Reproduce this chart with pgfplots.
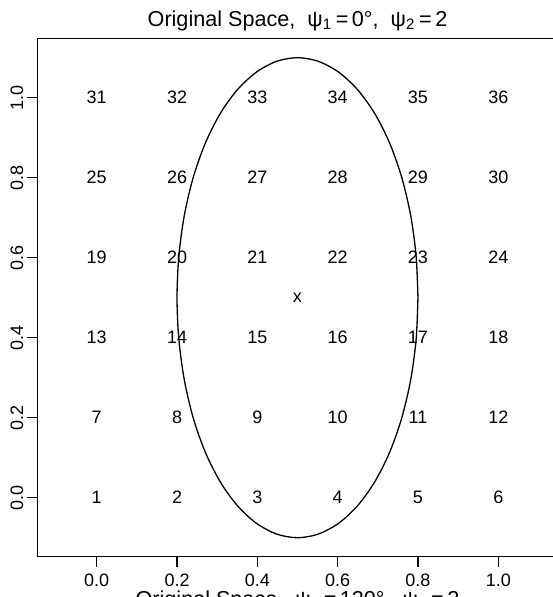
\documentclass[border=0pt]{standalone}
\usepackage{fontspec}
\setmainfont{Liberation Sans}
\usepackage{pgfplots}
\usepackage{pgfplotstable}
\pgfplotsset{compat=1.18}

\pgfplotstableread{
x y label
0.0 0.0 1
0.2 0.0 2
0.4 0.0 3
0.6 0.0 4
0.8 0.0 5
1.0 0.0 6
0.0 0.2 7
0.2 0.2 8
0.4 0.2 9
0.6 0.2 10
0.8 0.2 11
1.0 0.2 12
0.0 0.4 13
0.2 0.4 14
0.4 0.4 15
0.6 0.4 16
0.8 0.4 17
1.0 0.4 18
0.0 0.6 19
0.2 0.6 20
0.4 0.6 21
0.6 0.6 22
0.8 0.6 23
1.0 0.6 24
0.0 0.8 25
0.2 0.8 26
0.4 0.8 27
0.6 0.8 28
0.8 0.8 29
1.0 0.8 30
0.0 1.0 31
0.2 1.0 32
0.4 1.0 33
0.6 1.0 34
0.8 1.0 35
1.0 1.0 36
}\gridtable

\pgfplotstableread{
x y label
0.5 0.5 x
}\centertable

\pgfplotstableread{
x y
0.80000 0.50000
0.79544 0.60419
0.78191 0.70521
0.75981 0.80000
0.72981 0.88567
0.69284 0.95962
0.65000 1.01962
0.60261 1.06381
0.55210 1.09089
0.50000 1.10000
0.44790 1.09089
0.39739 1.06381
0.35000 1.01962
0.30716 0.95962
0.27019 0.88567
0.24019 0.80000
0.21809 0.70521
0.20456 0.60419
0.20000 0.50000
0.20456 0.39581
0.21809 0.29479
0.24019 0.20000
0.27019 0.11433
0.30716 0.04038
0.35000 -0.01962
0.39739 -0.06381
0.44790 -0.09089
0.50000 -0.10000
0.55210 -0.09089
0.60261 -0.06381
0.65000 -0.01962
0.69284 0.04038
0.72981 0.11433
0.75981 0.20000
0.78191 0.29479
0.79544 0.39581
0.80000 0.50000
}\ellipsetable

\begin{document}
\begin{tikzpicture}
\begin{axis}[
  scale only axis,
  x=200.8pt, y=200pt,
  xmin=-0.148, xmax=1.148, ymin=-0.148, ymax=1.148,
  clip=false,
  axis line style={line width=0.6pt, black},
  xtick={0,0.2,0.4,0.6,0.8,1},
  xticklabels={0.0,0.2,0.4,0.6,0.8,1.0},
  ytick={0,0.2,0.4,0.6,0.8,1},
  yticklabels={0.0,0.2,0.4,0.6,0.8,1.0},
  tick pos=left,
  tick align=outside,
  major tick length=5pt,
  tick style={line width=0.6pt, black},
  ticklabel style={font=\fontsize{9}{11}\selectfont},
  xticklabel style={anchor=north},
  yticklabel style={xshift=1.5pt, rotate=90, anchor=south},
]
\addplot[black, line width=0.65pt, smooth, tension=0.5] table[x=x, y=y] {\ellipsetable};
\addplot[only marks, mark=none, nodes near coords, point meta=explicit symbolic,
  nodes near coords align={anchor=center},
  every node near coord/.append style={font=\fontsize{9}{11}\selectfont, inner sep=0pt}]
  table[x=x, y=y, meta=label] {\gridtable};
\addplot[only marks, mark=none, nodes near coords, point meta=explicit symbolic,
  nodes near coords align={anchor=center},
  every node near coord/.append style={font=\fontsize{9}{11}\selectfont, inner sep=0pt}]
  table[x=x, y=y, meta=label] {\centertable};
\node[anchor=base, font=\fontsize{10.8}{13}\selectfont] at (axis cs:0.5,1.178)
  {Original Space,\ \ ψ\textsubscript{1}\,=\,0°,\ \ ψ\textsubscript{2}\,=\,2};
\node[anchor=base, font=\fontsize{10.8}{13}\selectfont] at (axis cs:0.5,-0.272)
  {Original Space,\ \ ψ\textsubscript{1}\,=\,120°,\ \ ψ\textsubscript{2}\,=\,2};
\coordinate (bbSW) at (axis cs:-0.2408,-0.2483);
\coordinate (bbNE) at (axis cs:1.1362,1.2443);
\end{axis}
\pgfresetboundingbox
\useasboundingbox (bbSW) rectangle (bbNE);
\end{tikzpicture}
\end{document}
